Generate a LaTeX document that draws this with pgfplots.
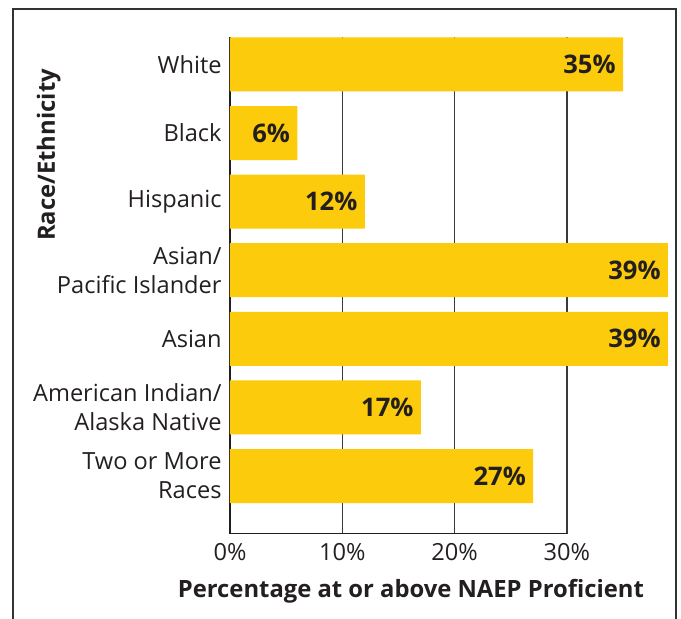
\documentclass[border=0pt]{standalone}
\usepackage{fontspec}
\setmainfont{Open Sans}
\usepackage{pgfplots}
\pgfplotsset{compat=1.18}

\definecolor{barfill}{HTML}{FCCB0B}
\definecolor{ink}{HTML}{231F20}
\definecolor{gridc}{HTML}{3A3A3A}
\definecolor{framec}{HTML}{333333}

\begin{document}
\begin{tikzpicture}[x=0.5pt, y=0.5pt]
\begin{axis}[
    anchor=south west,
    scale only axis,
    width=219pt,
    height=248.5pt,
    xbar,
    bar width=27pt,
    xmin=0, xmax=39,
    ymin=-0.845, ymax=6.40,
    axis x line*=bottom,
    axis y line*=left,
    x axis line style={draw=none},
    y axis line style={draw=ink, line width=0.75pt},
    xtick={0,10,20,30},
    xticklabels={0\%,10\%,20\%,30\%},
    ytick={0,...,6},
    yticklabels={{Two or More\\Races},{American Indian/\\Alaska Native},Asian,{Asian/\\Pacific Islander},Hispanic,Black,White},
    major tick length=0pt,
    tick style={draw=none},
    xmajorgrids,
    major grid style={draw=gridc, line width=0.6pt},
    ticklabel style={font=\fontsize{11.8}{14.6}\selectfont, text=ink},
    xticklabel style={inner sep=0pt, anchor=north, yshift=-4.5pt},
    yticklabel style={inner sep=0pt, anchor=east, xshift=-4pt, align=right},
    /pgf/number format/assume math mode=true,
    nodes near coords={\pgfmathprintnumber{\pgfplotspointmeta}\%},
    every node near coord/.append style={anchor=east, inner sep=0pt, xshift=-3.5pt,
        font=\fontsize{12.8}{15}\selectfont\bfseries, text=ink},
    xlabel={Percentage at or above NAEP Proficient},
    xlabel style={at={(axis description cs:0.413,-0.1268)}, anchor=base,
        font=\fontsize{11.9}{14}\selectfont\bfseries, text=ink},
    ylabel={Race/Ethnicity},
    ylabel style={at={(axis description cs:-0.40,0.7626)}, anchor=base, rotate=0,
        font=\fontsize{11.9}{14}\selectfont\bfseries, text=ink},
]
\addplot[fill=barfill, draw=none] coordinates {
    (27,0) (17,1) (39,2) (39,3) (12,4) (6,5) (35,6)
};
\draw[ink, line width=0.75pt] (axis cs:0,-0.845) -- (axis cs:30,-0.845);
\end{axis}
\draw[framec, line width=1pt] (-216.5,-105) -- (-216.5,524.5) -- (446,524.5) -- (446,-105);
\pgfresetboundingbox
\useasboundingbox (-230,-85) rectangle (451,534);
\end{tikzpicture}
\end{document}
